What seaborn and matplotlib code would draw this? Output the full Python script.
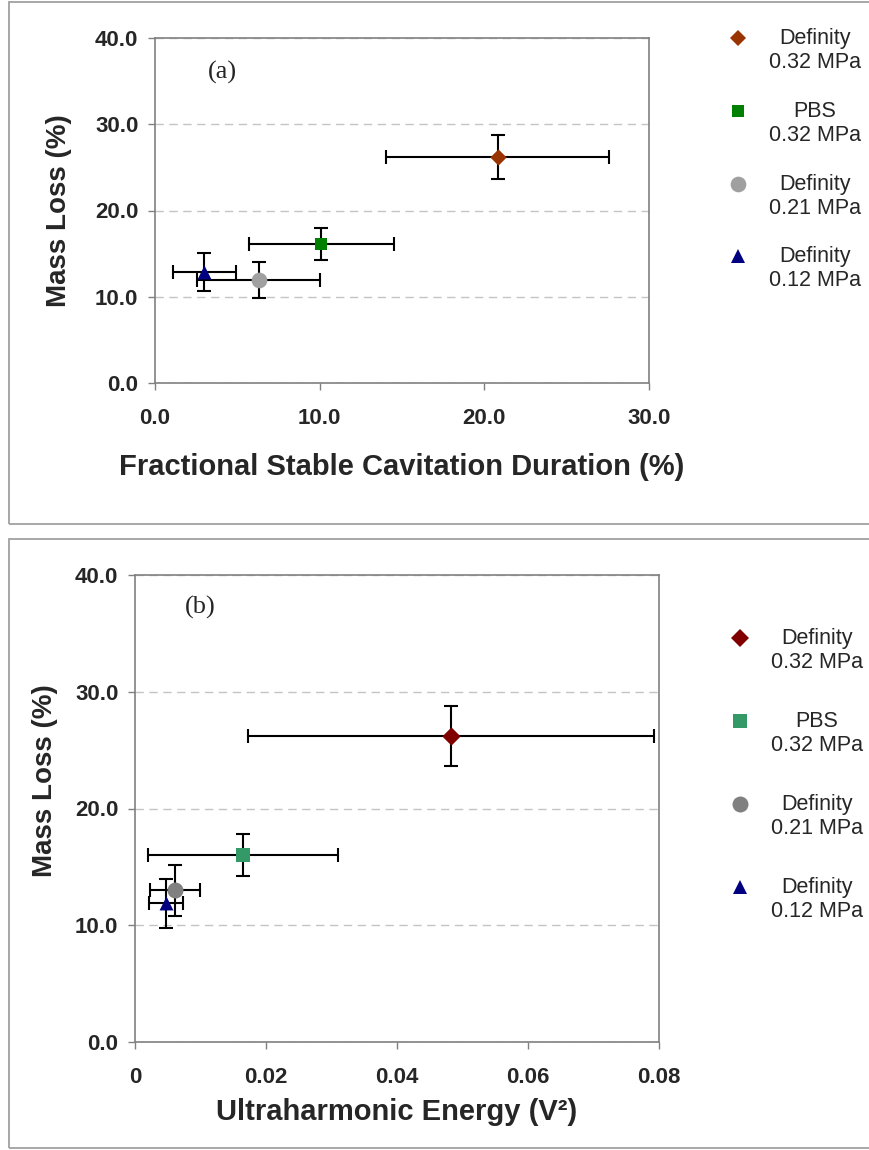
import numpy as np
import matplotlib
matplotlib.use("Agg")
import matplotlib.pyplot as plt
import seaborn as sns
from matplotlib.lines import Line2D
from matplotlib.patches import Rectangle
from matplotlib.legend_handler import HandlerLine2D
from matplotlib.ticker import FixedLocator, FixedFormatter

# ---------------- data ----------------
groups = ["Definity\n0.32 MPa", "PBS\n0.32 MPa", "Definity\n0.21 MPa", "Definity\n0.12 MPa"]
markers = ["D", "s", "o", "^"]

# panel (a): fractional stable cavitation duration (%) vs mass loss (%)
a_x = [20.8, 10.1, 6.3, 3.0]
a_xerr = [6.8, 4.4, 3.75, 1.9]
a_y = [26.2, 16.1, 11.9, 12.9]
a_yerr = [2.6, 1.85, 2.1, 2.2]
a_colors = ["#993300", "#008000", "#A0A0A0", "#000080"]
a_xticks = [0, 10, 20, 30]
a_xticklabels = ["0.0", "10.0", "20.0", "30.0"]

# panel (b): ultraharmonic energy (V^2) vs mass loss (%)
b_x = [0.0482, 0.0165, 0.0061, 0.0047]
b_xerr = [0.031, 0.0145, 0.0038, 0.0026]
b_y = [26.2, 16.0, 13.0, 11.9]
b_yerr = [2.6, 1.8, 2.2, 2.1]
b_colors = ["#800000", "#339966", "#808080", "#000080"]
b_xticks = [0, 0.02, 0.04, 0.06, 0.08]
b_xticklabels = ["0", "0.02", "0.04", "0.06", "0.08"]

y_ticks = [0, 10, 20, 30, 40]
y_ticklabels = ["0.0", "10.0", "20.0", "30.0", "40.0"]

# ---------------- style ----------------
sns.set_style("white")
plt.rcParams["font.family"] = ["Liberation Sans", "DejaVu Sans"]

W, H = 870, 1150
fig = plt.figure(figsize=(W / 100, H / 100), dpi=100)


def fx(px):
    return px / W


def fy(py):
    return 1 - py / H


class RaisedHandler(HandlerLine2D):
    def __init__(self, shift=0.6, **kw):
        super().__init__(**kw)
        self.shift = shift

    def create_artists(self, legend, orig_handle, xdescent, ydescent,
                       width, height, fontsize, trans):
        arts = super().create_artists(legend, orig_handle, xdescent, ydescent,
                                      width, height, fontsize, trans)
        for a in arts:
            if isinstance(a, Line2D):
                a.set_ydata(np.asarray(a.get_ydata(), dtype=float) + self.shift * fontsize)
        return arts


def draw_panel(ax, xs, xerr, ys, yerr, colors, sizes, xlim, xticks, xticklabels,
               xlabel, panel_label, plabel_pos, ylab_x, ylab_y, xlab_y):
    ax.errorbar(xs, ys, xerr=xerr, yerr=yerr, fmt="none", ecolor="black",
                elinewidth=1.5, capsize=4.8, capthick=1.5, zorder=3)
    for i in range(len(xs)):
        sns.scatterplot(x=[xs[i]], y=[ys[i]], marker=markers[i], s=sizes[i] ** 2,
                        color=colors[i], linewidth=0, ax=ax, zorder=5, legend=False)
    ax.set_xlim(*xlim)
    ax.set_ylim(0, 40)
    ax.xaxis.set_major_locator(FixedLocator(xticks))
    ax.xaxis.set_major_formatter(FixedFormatter(xticklabels))
    ax.yaxis.set_major_locator(FixedLocator(y_ticks))
    ax.yaxis.set_major_formatter(FixedFormatter(y_ticklabels))
    ax.tick_params(axis="both", direction="out", length=5, width=1, color="#808080",
                   labelsize=16, bottom=True, left=True)
    ax.tick_params(axis="y", pad=7)
    ax.tick_params(axis="x", pad=13)
    for lab in ax.get_xticklabels() + ax.get_yticklabels():
        lab.set_fontweight("bold")
    ax.yaxis.grid(True, linestyle=(0, (6, 4)), color="#c4c4c4", lw=1)
    ax.xaxis.grid(False)
    ax.set_axisbelow(True)
    for sp in ax.spines.values():
        sp.set_color("#808080")
        sp.set_linewidth(1.2)
        sp.set_visible(True)
    ax.set_xlabel(xlabel, fontsize=21, fontweight="bold")
    ax.set_ylabel("Mass Loss (%)", fontsize=20, fontweight="bold")
    ax.yaxis.set_label_coords(ylab_x, ylab_y)
    ax.xaxis.set_label_coords(0.5, xlab_y)
    ax.text(plabel_pos[0], plabel_pos[1], panel_label, transform=ax.transAxes,
            fontsize=19, family=["Liberation Serif", "DejaVu Serif"],
            ha="center", va="center")


def add_legend(ax, colors, sizes, anchor, spacing):
    handles = [Line2D([], [], marker=m, linestyle="none", color=c, markersize=s,
                      markeredgewidth=0)
               for m, c, s in zip(markers, colors, sizes)]
    leg = ax.legend(handles, groups, loc="upper left", bbox_to_anchor=anchor,
                    bbox_transform=fig.transFigure, frameon=False, fontsize=15.5,
                    handlelength=1.0, handletextpad=0.95, labelspacing=spacing,
                    borderpad=0, borderaxespad=0,
                    handler_map={Line2D: RaisedHandler(0.6)})
    for t in leg.get_texts():
        t.set_multialignment("center")
    return leg


# ---- panel (a) ----
a_sizes = [8.3, 9.0, 11.3, 10.0]
ax1 = fig.add_axes([fx(155), fy(383), fx(649 - 155), (383 - 38) / H])
draw_panel(ax1, a_x, a_xerr, a_y, a_yerr, a_colors, a_sizes,
           (0, 30), a_xticks, a_xticklabels,
           "Fractional Stable Cavitation Duration (%)", "(a)", (0.136, 0.90),
           -0.168, 0.5, -0.203)
add_legend(ax1, a_colors, a_sizes, (fx(727), fy(28)), 1.28)

# ---- panel (b) ----
b_sizes = [9.3, 10.6, 11.5, 10.0]
ax2 = fig.add_axes([fx(135), fy(1042), fx(659 - 135), (1042 - 575) / H])
draw_panel(ax2, b_x, b_xerr, b_y, b_yerr, b_colors, b_sizes,
           (0, 0.08), b_xticks, b_xticklabels,
           "Ultraharmonic Energy (V²)", "(b)", (0.124, 0.93),
           -0.147, 0.56, -0.12)
add_legend(ax2, b_colors, b_sizes, (fx(729), fy(628)), 1.75)

# ---- panel frames ----
fig.add_artist(Rectangle((fx(9), fy(524)), 1.0, (524 - 2) / H, transform=fig.transFigure,
                         fill=False, edgecolor="#a0a0a0", lw=1.3))
fig.add_artist(Rectangle((fx(9), fy(1148)), 1.0, (1148 - 539) / H, transform=fig.transFigure,
                         fill=False, edgecolor="#a0a0a0", lw=1.3))

fig.savefig("out.png", dpi=100)
